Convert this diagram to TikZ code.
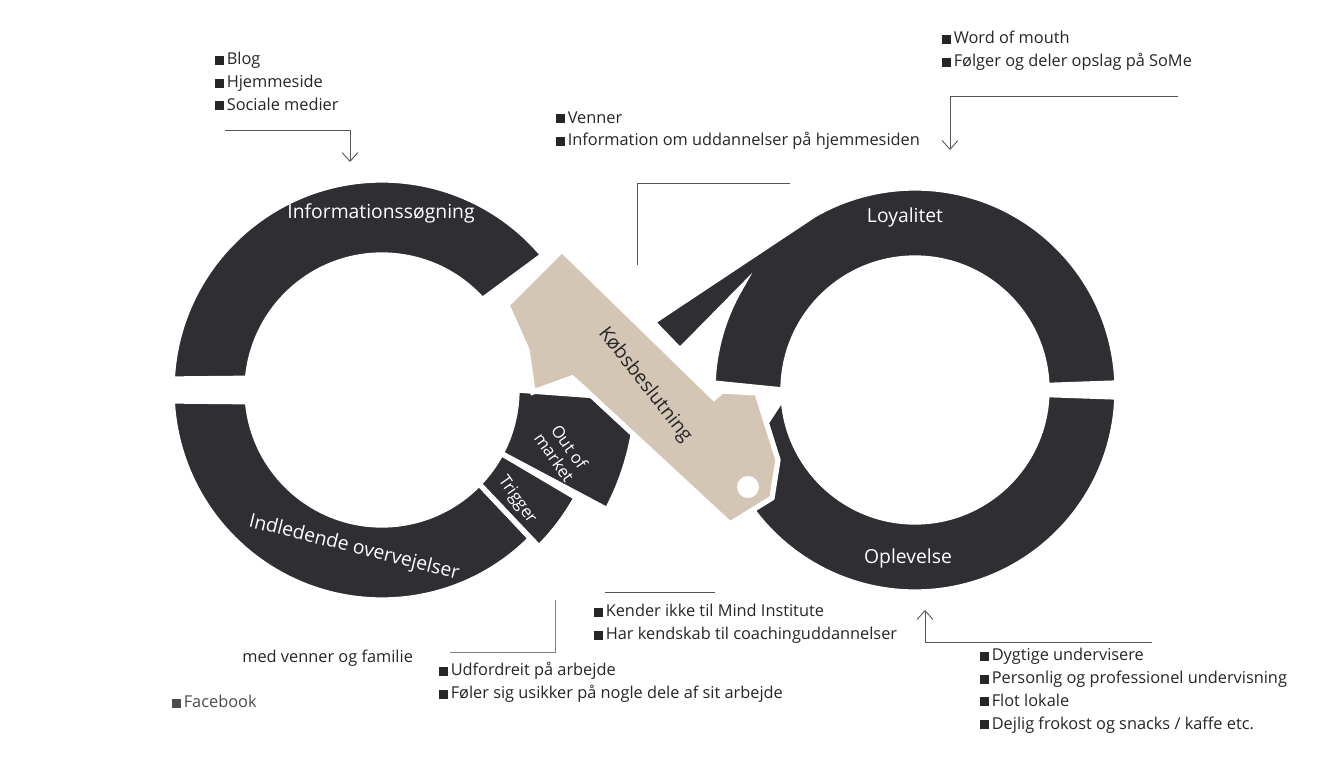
\documentclass[tikz,border=0pt]{standalone}
\usepackage{fontspec}
\setmainfont{Open Sans}
\usetikzlibrary{arrows.meta,positioning}

\definecolor{ringdark}{HTML}{2E2E33}
\definecolor{keybeige}{HTML}{D3C6B4}
\definecolor{linegray}{HTML}{555555}
\newcommand{\sq}{\rule{0.55em}{0.55em}\hspace{0.15em}}

\begin{document}
\begin{tikzpicture}[x=0.02cm,y=-0.02cm]

    \tikzstyle{seg} = [fill=ringdark, draw=white, line width=3pt, line join=miter]
    \tikzstyle{key} = [fill=keybeige, draw=white, line width=3pt]
    \tikzstyle{ringlabel} = [text=white, font=\fontsize{11}{13}\selectfont]
    \tikzstyle{smalllabel} = [text=white, font=\fontsize{9.5}{10.5}\selectfont, align=center]
    \tikzstyle{bullets} = [anchor=north west, align=left, inner sep=0pt,
        font=\fontsize{9.3}{13}\selectfont, text=black!85]
    \tikzstyle{conn} = [linegray, line width=0.5pt]
    \tikzstyle{connarrow} = [conn, -{Straight Barb[length=5pt,width=9pt]}]

    \useasboundingbox[fill=white] (0,0) rectangle (1329,784);

    % Left ring
    \begin{scope}[shift={(382,390)}]
        \path[seg] (183:210) arc (183:320:210) -- (318:135) arc (318:185:135) -- cycle;
        \path[seg] (45:210) arc (45:177:210) -- (175:135) arc (175:44:135) -- cycle;
        \path[seg] (29:222) arc (29:45:222) -- (44:135) arc (44:28:135) -- cycle;
        \path[seg] (2:255) arc (2:28:255) -- (28:135) arc (28:0:135) -- cycle;
    \end{scope}

    % Right ring
    \begin{scope}[shift={(915,390)}]
        \path[seg] (-2:202) arc (-2:-120:202) -- (-262,-68) -- (-235,-40)
            -- (-150:202) arc (-150:-178:202) -- (180:132) arc (180:358:132) -- cycle;
        \path[seg] (2:202) arc (2:155:202) -- (177:132) arc (177:2:132) -- cycle;
    \end{scope}

    % Purchase key
    \path[key] (507,305) -- (562,250) -- (714,398) -- (722,391) -- (757,393)
        -- (778,460) -- (772,498) -- (730,524) -- (580,385) -- (572,378)
        -- (533,392) -- (527,350) -- cycle;
    \fill[white] (748,487) circle (11);

    % Ring labels
    \node[ringlabel] (info) at (381,213) {Informationssøgning};
    \node[ringlabel] (loyal) at (905,217) {Loyalitet};
    \node[ringlabel] (oplev) at (908,558) {Oplevelse};
    \node[ringlabel, rotate=-14] (indl) at (354,548) {Indledende overvejelser};
    \node[smalllabel, rotate=-55] (trig) at (517,500) {Trigger};
    \node[smalllabel, rotate=-55] (oom) at (562,452) {Out of\\market};
    \node[font=\fontsize{11}{13}\selectfont, text=black!85, rotate=-52] (kob) at (645,385) {Købsbeslutning};

    % Lists
    \node[bullets] (lblog) at (215,52) {\sq Blog\\ \sq Hjemmeside\\ \sq Sociale medier};
    \node[bullets] (lword) at (942,31) {\sq Word of mouth\\ \sq Følger og deler opslag på SoMe};
    \node[bullets] (lvenner) at (556,111) {\sq Venner\\ \sq Information om uddannelser på hjemmesiden};
    \node[bullets] (lkender) at (594,604) {\sq Kender ikke til Mind Institute\\ \sq Har kendskab til coachinguddannelser};
    \node[bullets] (ludf) at (439,662) {\sq Udfordreit på arbejde\\ \sq Føler sig usikker på nogle dele af sit arbejde};
    \node[bullets] (ldygt) at (980,648) {\sq Dygtige undervisere\\ \sq Personlig og professionel undervisning\\ \sq Flot lokale\\ \sq Dejlig frokost og snacks / kaffe etc.};
    \node[bullets] (lmed) at (242,650) {med venner og familie};
    \node[bullets, text=black!70] (lface) at (172,695) {\sq Facebook};

    % Connectors
    \coordinate (c1a) at (225,130);
    \coordinate (c1b) at (350,130);
    \coordinate (c1c) at (350,162);
    \draw[connarrow] (c1a) -- (c1b) -- (c1c);

    \coordinate (c2a) at (1178,96);
    \coordinate (c2b) at (950,96);
    \coordinate (c2c) at (950,150);
    \draw[connarrow] (c2a) -- (c2b) -- (c2c);

    \coordinate (c3a) at (790,183);
    \coordinate (c3b) at (637,183);
    \coordinate (c3c) at (637,265);
    \draw[conn] (c3a) -- (c3b) -- (c3c);

    \coordinate (c4a) at (605,592);
    \coordinate (c4b) at (715,592);
    \draw[conn] (c4a) -- (c4b);

    \coordinate (c5a) at (1152,642);
    \coordinate (c5b) at (925,642);
    \coordinate (c5c) at (925,610);
    \draw[connarrow] (c5a) -- (c5b) -- (c5c);

    \coordinate (c6a) at (450,652);
    \coordinate (c6b) at (555,652);
    \coordinate (c6c) at (555,600);
    \draw[conn, black!50] (c6a) -- (c6b) -- (c6c);

\end{tikzpicture}
\end{document}
